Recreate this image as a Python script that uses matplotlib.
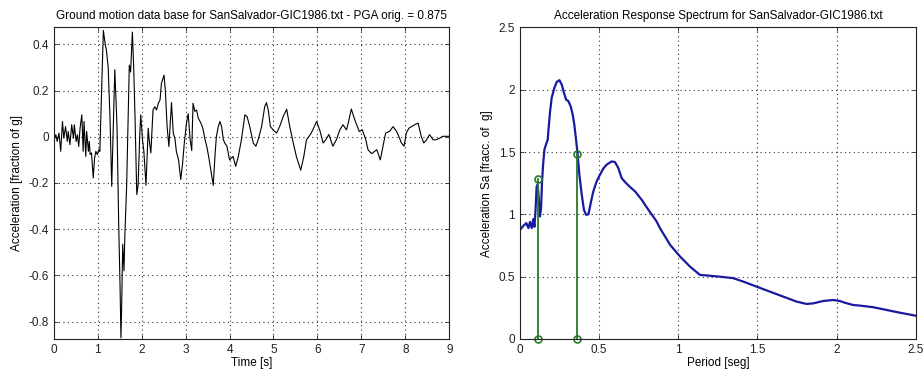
import matplotlib
matplotlib.use("Agg")
import matplotlib.pyplot as plt

plt.rcParams['font.family'] = ['Liberation Sans', 'DejaVu Sans']

# ground motion record
time_s = [0.01, 0.05, 0.08, 0.12, 0.16, 0.20, 0.23, 0.27, 0.31, 0.33, 0.37, 0.41, 0.45, 0.47,
          0.51, 0.54, 0.57, 0.60, 0.64, 0.67, 0.69, 0.73, 0.75, 0.79, 0.81, 0.83, 0.86, 0.89,
          0.90, 0.93, 0.96, 0.99, 1.03, 1.05, 1.09, 1.13, 1.17, 1.20, 1.24, 1.28, 1.32, 1.39,
          1.44, 1.48, 1.51, 1.53, 1.545, 1.57, 1.60, 1.62, 1.66, 1.72, 1.75, 1.79, 1.82, 1.85,
          1.89, 1.92, 1.96, 1.98, 2.02, 2.05, 2.10, 2.15, 2.17, 2.21, 2.26, 2.30, 2.34, 2.38,
          2.42, 2.45, 2.51, 2.54, 2.58, 2.62, 2.66, 2.68, 2.72, 2.76, 2.79, 2.84, 2.89, 2.93,
          2.97, 3.02, 3.06, 3.10, 3.14, 3.17, 3.21, 3.25, 3.29, 3.33, 3.37, 3.40, 3.44, 3.48,
          3.52, 3.58, 3.63, 3.67, 3.70, 3.74, 3.78, 3.82, 3.86, 3.90, 3.94, 4.00, 4.08, 4.14,
          4.20, 4.27, 4.35, 4.40, 4.46, 4.54, 4.60, 4.65, 4.73, 4.80, 4.84, 4.88, 4.93, 4.99,
          5.07, 5.14, 5.22, 5.30, 5.37, 5.45, 5.52, 5.62, 5.69, 5.75, 5.86, 5.98, 6.05, 6.13,
          6.19, 6.26, 6.35, 6.43, 6.51, 6.58, 6.66, 6.70, 6.77, 6.85, 6.95, 7.02, 7.10, 7.15,
          7.23, 7.30, 7.35, 7.43, 7.49, 7.55, 7.64, 7.72, 7.80, 7.85, 7.91, 7.97, 8.02, 8.08,
          8.14, 8.21, 8.29, 8.36, 8.42, 8.48, 8.55, 8.63, 8.70, 8.78, 8.85, 9.00]
accel_g = [-0.013, 0.009, -0.020, 0.016, -0.063, 0.066, -0.006, 0.044, -0.020, 0.023, -0.034,
           0.052, -0.006, 0.052, -0.020, 0.009, -0.042, 0.037, 0.095, -0.063, 0.066, -0.085,
           0.023, -0.063, -0.020, -0.077, -0.070, -0.149, -0.178, -0.092, -0.063, -0.077,
           -0.056, -0.063, 0.195, 0.460, 0.403, 0.374, 0.300, 0.087, -0.214, 0.290, 0.050,
           -0.390, -0.650, -0.870, -0.750, -0.465, -0.580, -0.420, -0.210, 0.310, 0.280, 0.453,
           0.300, 0.087, -0.250, -0.210, 0.016, 0.095, -0.013, -0.060, -0.210, 0.037, -0.010,
           -0.070, 0.116, 0.130, 0.116, 0.145, 0.160, 0.230, 0.267, 0.200, 0.044, -0.042, 0.087,
           0.148, 0.016, -0.010, -0.063, -0.100, -0.185, -0.120, -0.030, 0.059, 0.100, -0.006,
           -0.060, 0.145, 0.110, 0.116, 0.080, 0.066, 0.050, 0.030, -0.010, -0.040, -0.080,
           -0.150, -0.210, -0.080, 0.000, 0.040, 0.066, 0.044, -0.013, -0.030, -0.040, -0.100,
           -0.085, -0.128, -0.085, -0.013, 0.095, 0.087, 0.044, -0.027, -0.041, -0.013, 0.044,
           0.130, 0.148, 0.116, 0.044, 0.030, 0.016, 0.044, 0.087, 0.119, 0.044, -0.027, -0.085,
           -0.145, -0.085, -0.013, 0.016, 0.066, 0.030, -0.027, -0.013, 0.010, -0.041, -0.013,
           0.030, 0.052, 0.030, 0.059, 0.120, 0.073, 0.023, 0.030, -0.013, -0.056, -0.073,
           -0.063, -0.056, -0.100, -0.041, 0.016, 0.023, 0.044, 0.023, 0.002, -0.027, -0.041,
           0.016, 0.037, 0.044, 0.052, 0.059, 0.002, -0.027, -0.013, 0.009, -0.013, -0.013,
           -0.006, 0.002, 0.002]

# acceleration response spectrum
period = [0.0, 0.021, 0.040, 0.053, 0.063, 0.074, 0.084, 0.091, 0.097, 0.105, 0.112, 0.118,
          0.126, 0.133, 0.139, 0.145, 0.154, 0.164, 0.175, 0.179, 0.190, 0.200, 0.217, 0.232,
          0.249, 0.264, 0.278, 0.291, 0.305, 0.320, 0.333, 0.343, 0.354, 0.364, 0.375, 0.390,
          0.404, 0.417, 0.432, 0.449, 0.463, 0.484, 0.505, 0.526, 0.547, 0.579, 0.600, 0.621,
          0.642, 0.663, 0.695, 0.727, 0.769, 0.811, 0.863, 0.884, 0.948, 1.011, 1.074, 1.137,
          1.180, 1.263, 1.347, 1.410, 1.495, 1.579, 1.663, 1.748, 1.811, 1.853, 1.916, 1.979,
          2.020, 2.063, 2.105, 2.147, 2.232, 2.316, 2.400, 2.500]
sa_g = [0.876, 0.908, 0.930, 0.890, 0.940, 0.890, 0.962, 0.900, 1.010, 1.224, 1.240, 1.130,
        0.983, 1.050, 1.260, 1.385, 1.520, 1.560, 1.600, 1.667, 1.827, 1.935, 2.015, 2.063,
        2.077, 2.040, 1.975, 1.920, 1.910, 1.867, 1.800, 1.720, 1.600, 1.480, 1.318, 1.158,
        1.036, 0.997, 1.000, 1.104, 1.184, 1.264, 1.318, 1.367, 1.399, 1.425, 1.420, 1.372,
        1.292, 1.260, 1.220, 1.184, 1.117, 1.037, 0.943, 0.890, 0.756, 0.662, 0.581, 0.514,
        0.510, 0.500, 0.488, 0.461, 0.420, 0.380, 0.340, 0.300, 0.281, 0.286, 0.305, 0.313,
        0.305, 0.287, 0.273, 0.268, 0.255, 0.233, 0.211, 0.187]

# marked periods (stems)
stem_T = [0.114, 0.362]
stem_sa = [1.286, 1.488]

fig = plt.figure(figsize=(9.24, 3.74), dpi=100)
fig.patch.set_facecolor('white')
ax1 = fig.add_axes([0.0581, 0.0936, 0.4282, 0.833])
ax2 = fig.add_axes([0.5628, 0.0936, 0.4282, 0.833])

fs = 8.5

def matlab_style(ax):
    ax.grid(True, linestyle=(0, (1, 3)), color='#333333', linewidth=0.8)
    ax.tick_params(direction='in', top=True, right=True, length=3, labelsize=fs,
                   width=0.6, colors='#222222')
    for s in ax.spines.values():
        s.set_linewidth(0.8)
        s.set_color('#222222')

ax1.plot(time_s, accel_g, color='black', linewidth=0.8)
ax1.set_xlim(0, 9)
ax1.set_ylim(-0.875, 0.473)
ax1.set_xticks(range(0, 10))
ax1.set_yticks([-0.8, -0.6, -0.4, -0.2, 0, 0.2, 0.4])
ax1.set_yticklabels(['-0.8', '-0.6', '-0.4', '-0.2', '0', '0.2', '0.4'])
ax1.set_xlabel('Time [s]', fontsize=fs, labelpad=1)
ax1.set_ylabel('Acceleration [fraction of g]', fontsize=fs, labelpad=4)
ax1.set_title('Ground motion data base for SanSalvador-GIC1986.txt - PGA orig. = 0.875',
              fontsize=fs, pad=6)
matlab_style(ax1)

ax2.plot(period, sa_g, color='#1a1aa0', linewidth=1.6)
for T, s in zip(stem_T, stem_sa):
    ax2.plot([T, T], [0, s], color='#2a7a2a', linewidth=1.3)
    ax2.plot([T, T], [0, s], 'o', color='#2a7a2a', markerfacecolor='none',
             markersize=5, markeredgewidth=1.2, clip_on=False)
ax2.set_xlim(0, 2.5)
ax2.set_ylim(0, 2.5)
ax2.set_xticks([0, 0.5, 1, 1.5, 2, 2.5])
ax2.set_xticklabels(['0', '0.5', '1', '1.5', '2', '2.5'])
ax2.set_yticks([0, 0.5, 1, 1.5, 2, 2.5])
ax2.set_yticklabels(['0', '0.5', '1', '1.5', '2', '2.5'])
ax2.set_xlabel('Period [seg]', fontsize=fs, labelpad=1)
ax2.set_ylabel('Acceleration Sa [fracc. of  g]', fontsize=fs, labelpad=4)
ax2.set_title('Acceleration Response Spectrum for SanSalvador-GIC1986.txt', fontsize=fs, pad=6)
matlab_style(ax2)

fig.savefig('out.png', dpi=100, facecolor='white')
